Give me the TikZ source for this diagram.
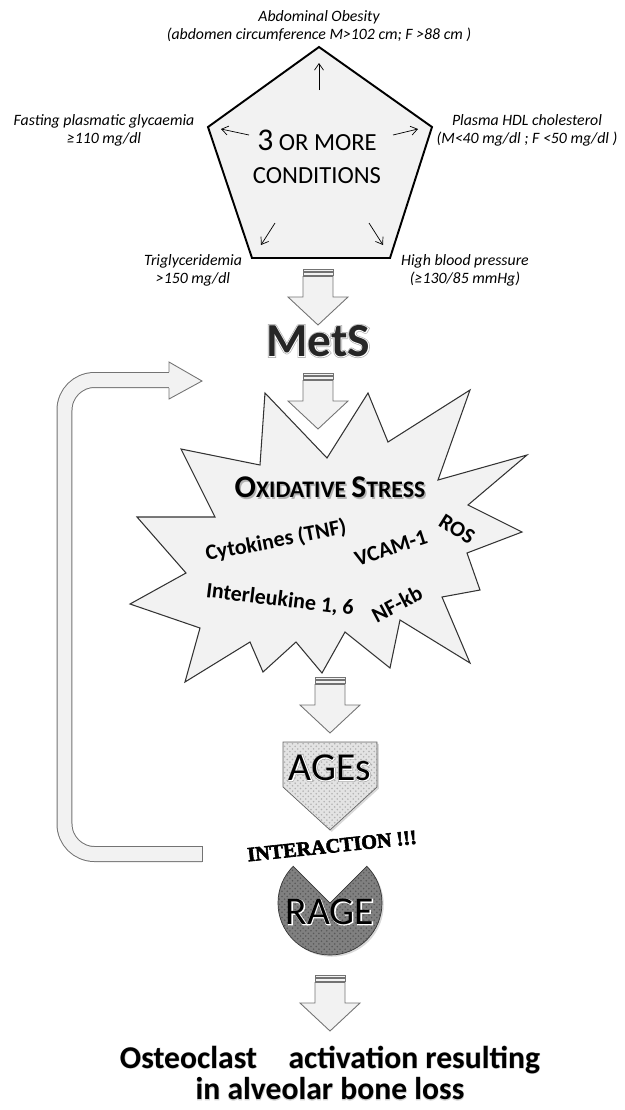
\documentclass[tikz,border=0pt]{standalone}
\usepackage{fontspec}
\setmainfont{Carlito}
\newfontfamily\stencilfont{Liberation Serif Bold}[FakeBold=3]
% emboldened copies, used as halos behind titles
\newfontfamily\boldhaloL{Carlito Bold}[FakeBold=6]
\newfontfamily\boldhaloS{Carlito Bold}[FakeBold=3]
\newfontfamily\reghaloL{Carlito}[FakeBold=6]
\newfontfamily\reghaloS{Carlito}[FakeBold=3]
\usetikzlibrary{arrows.meta,positioning,calc,patterns,shadows}

\newcommand{\metsize}{\fontsize{27}{27}\selectfont}
\newcommand{\boxsize}{\fontsize{22.5}{22.5}\selectfont}
\newcommand{\ostsize}{\fontsize{18}{18.1}\selectfont}

\begin{document}
\begin{tikzpicture}[x=0.02cm,y=-0.02cm,>={Straight Barb[length=1.3mm,width=1.8mm]},
  crit/.style={font=\fontsize{9}{10.2}\selectfont\itshape,align=center},
  shp/.style={draw=black!80,fill=gray!10},
  arrowline/.style={draw=black!55,fill=gray!10,line width=0.5pt},
  item/.style={font=\fontsize{12.5}{14}\selectfont\bfseries,inner sep=0.5pt},
  stripedarrow/.pic={
    \draw[arrowline] (-15,0) rectangle (15,2);
    \draw[arrowline] (-15,3.5) rectangle (15,6);
    \draw[arrowline] (-15,7.5) -- (-15,28) -- (-30,28) -- (0,56) -- (30,28) -- (15,28) -- (15,7.5) -- cycle;
  }]
\useasboundingbox (0,0) rectangle (625,1110);
% the five conditions
\coordinate (ptop) at (319,47);
\coordinate (pright) at (432,127);
\coordinate (pbr) at (390,258);
\coordinate (pbl) at (252,258);
\coordinate (pleft) at (208,127);
\draw[shp,draw=black,line width=1.1pt] (ptop)--(pright)--(pbr)--(pbl)--(pleft)--cycle;
\node[align=center,font=\fontsize{14}{18.7}\selectfont] (three) at (317,157)
  {{\fontsize{18}{18.7}\selectfont 3} OR MORE\\CONDITIONS};
\coordinate (u0) at (319,90);  \coordinate (u1) at (319,63);
\coordinate (l0) at (249,135); \coordinate (l1) at (221,129);
\coordinate (r0) at (393,135); \coordinate (r1) at (418,129);
\coordinate (bl0) at (275,223); \coordinate (bl1) at (261,245);
\coordinate (br0) at (369,223); \coordinate (br1) at (383,245);
\draw[->,thin] (u0)--(u1);
\draw[->,thin] (l0)--(l1);
\draw[->,thin] (r0)--(r1);
\draw[->,thin] (bl0)--(bl1);
\draw[->,thin] (br0)--(br1);
\node[crit] (obes) at (319,26) {Abdominal Obesity\\(abdomen circumference M>102 cm; F >88 cm )};
\node[crit] (gly) at (104,130) {Fasting plasmatic glycaemia\\≥110 mg/dl};
\node[crit] (hdl) at (527,130) {Plasma HDL cholesterol\\(M<40 mg/dl ; F <50 mg/dl )};
\node[crit] (trig) at (193,270) {Triglyceridemia\\>150 mg/dl};
\node[crit] (hbp) at (465,270) {High blood pressure\\(≥130/85 mmHg)};
% MetS
\pic at (318,269) {stripedarrow};
\node[font=\boldhaloL\metsize,text=gray!60] at (318,341) {MetS};
\node[font=\boldhaloS\metsize,text=white] at (318,341) {MetS};
\node[font=\metsize\bfseries,text=black!85] (mets) at (318,341) {MetS};
\pic at (318,373) {stripedarrow};
% oxidative stress burst
\draw[shp,line width=0.6pt] (265,393) -- (327,458) -- (368,393) -- (388,442) -- (470,390)
  -- (438,480) -- (527,455) -- (468,505) -- (522,532) -- (467,553) -- (480,590)
  -- (442,597) -- (470,663) -- (400,620) -- (390,668) -- (345,632) -- (322,673)
  -- (296,642) -- (263,672) -- (250,642) -- (185,682) -- (200,628) -- (130,604)
  -- (186,573) -- (137,517) -- (215,517) -- (181,449) -- (260,465) -- cycle;
\node[font=\fontsize{13.5}{14}\selectfont\bfseries,text=gray!60] at (331.5,489)
  {{\fontsize{18}{18}\selectfont O}XIDATIVE {\fontsize{18}{18}\selectfont S}TRESS};
\node[font=\fontsize{13.5}{14}\selectfont\bfseries] (oxs) at (330,487)
  {{\fontsize{18}{18}\selectfont O}XIDATIVE {\fontsize{18}{18}\selectfont S}TRESS};
\node[item,rotate=11] (cyto) at (276,541) {Cytokines (TNF)};
\node[item,rotate=18] (vcam) at (391,548) {VCAM-1};
\node[item,rotate=-32] (ros) at (457,529) {ROS};
\node[item,rotate=-7] (il) at (280,600) {Interleukine 1, 6};
\node[item,rotate=28] (nfkb) at (397,604) {NF-kb};
\pic at (330,677) {stripedarrow};
% AGEs
\draw[draw=black!60,drop shadow={opacity=0.3,shadow xshift=1pt,shadow yshift=-1pt},
  preaction={fill=gray!22},pattern=crosshatch dots,pattern color=gray!60]
  (283,742) -- (377,742) -- (377,787) -- (330,830) -- (283,787) -- cycle;
\node[font=\reghaloL\boxsize,text=gray!70] at (330,768) {AGEs};
\node[font=\reghaloS\boxsize,text=white] at (330,768) {AGEs};
\node[font=\boxsize] (ages) at (330,768) {AGEs};
% interaction
\node[font=\stencilfont\fontsize{11.5}{11.5}\selectfont,rotate=6] (inter) at (332,846) {INTERACTION !!!};
% RAGE
\coordinate (rc) at (330,903);
\draw[draw=black!80,fill=black!50,drop shadow={opacity=0.3,shadow xshift=1pt,shadow yshift=-1pt}]
  (rc) -- ++(315:52) arc[start angle=315,end angle=585,radius=52] -- cycle;
\fill[pattern=crosshatch dots,pattern color=black!65]
  (rc) -- ++(315:52) arc[start angle=315,end angle=585,radius=52] -- cycle;
\node[font=\reghaloS\boxsize,text=white] at (330,912) {RAGE};
\node[font=\boxsize] (rage) at (330,912) {RAGE};
% feedback loop
\coordinate (fbs) at (202,854);
\coordinate (fbc1) at (64.5,854);
\coordinate (fbc2) at (64.5,380);
\coordinate (fbe) at (169,380);
\draw[black!55,line width=0.32cm,rounded corners=0.6cm] (fbs) -- (fbc1) -- (fbc2) -- (fbe);
\draw[gray!10,line width=0.28cm,rounded corners=0.6cm] (fbs) -- (fbc1) -- (fbc2) -- (fbe);
\draw[black!55,line width=0.5pt] ($(fbs)+(0,-8)$) -- ($(fbs)+(0,8)$);
\draw[black!55,line width=0.5pt,fill=gray!10] ($(fbe)+(0,-8)$) -- ($(fbe)+(0,-18)$)
  -- ($(fbe)+(33,1)$) -- ($(fbe)+(0,19)$) -- ($(fbe)+(0,8)$);
% outcome
\pic at (330,975) {stripedarrow};
\node[font=\boldhaloS\ostsize,text=gray!35,align=center] at (330,1073)
  {Osteoclast\hspace{1em}activation resulting\\in alveolar bone loss};
\node[font=\ostsize\bfseries,align=center] (osteo) at (330,1073)
  {Osteoclast\hspace{1em}activation resulting\\in alveolar bone loss};
\end{tikzpicture}
\end{document}
